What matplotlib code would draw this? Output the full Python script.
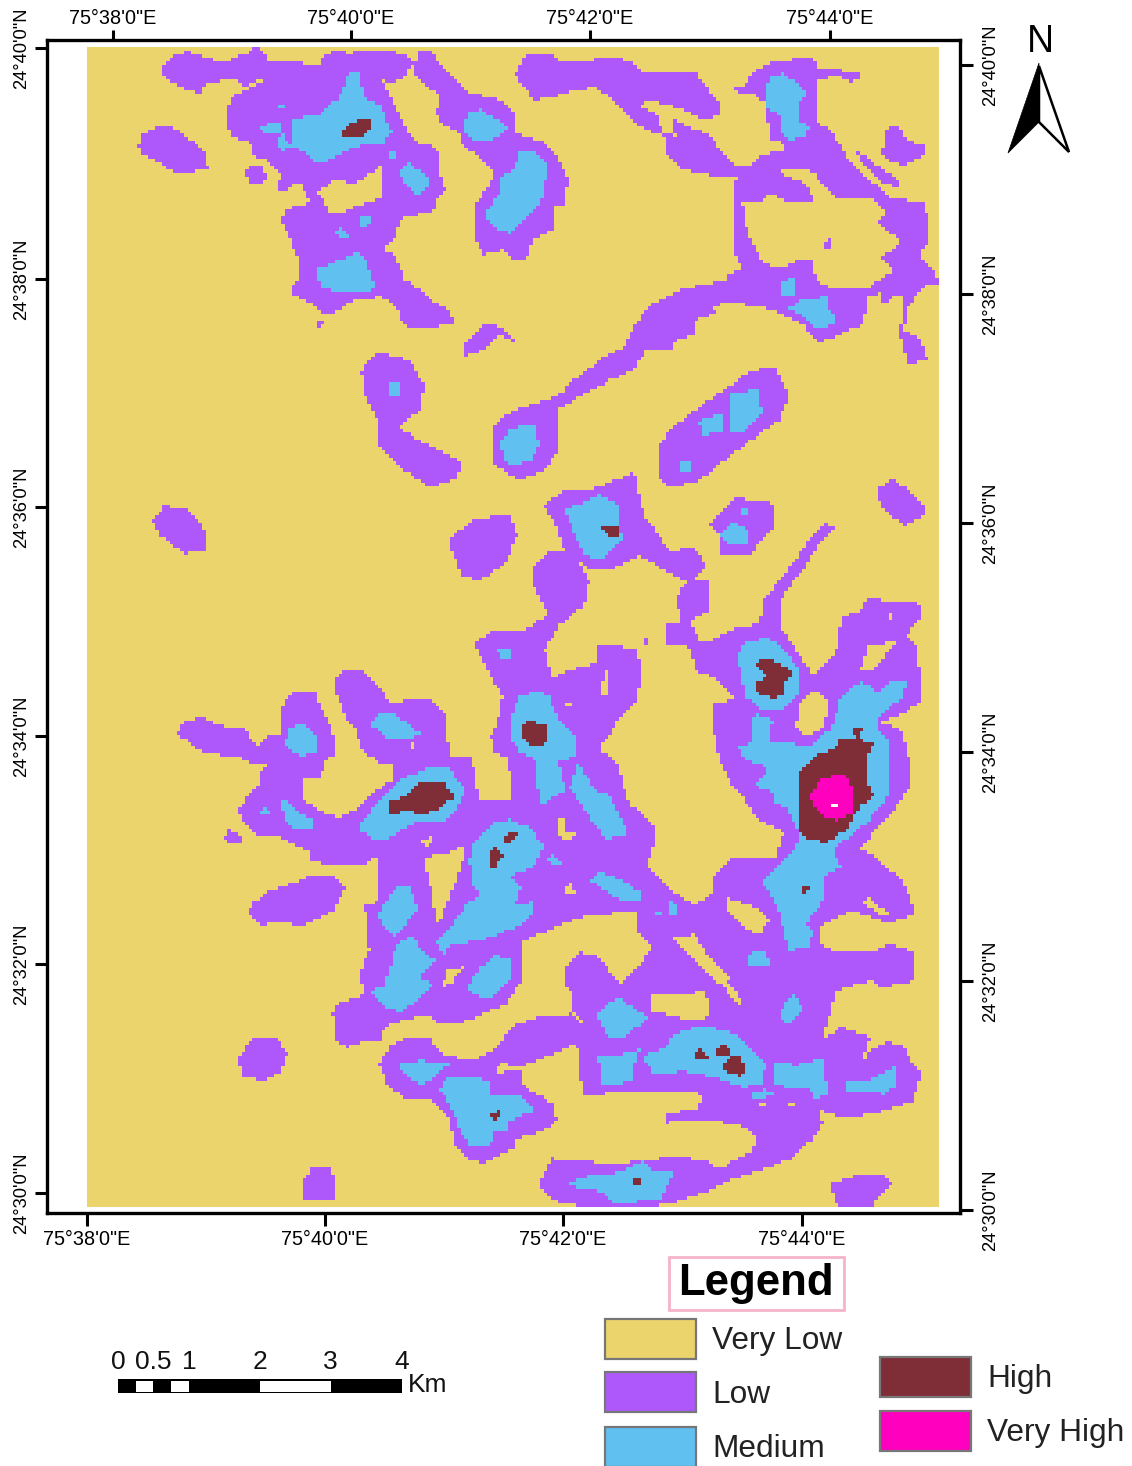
import numpy as np
import matplotlib
matplotlib.use('Agg')
import matplotlib.pyplot as plt
from matplotlib.colors import ListedColormap
from matplotlib.path import Path
from matplotlib.patches import Rectangle, Polygon

plt.rcParams['font.family'] = ['Liberation Sans', 'DejaVu Sans']

# graticule labels and where they cross the frame (map pixels)
lon_labels = ['75°38\'0"E', '75°40\'0"E', '75°42\'0"E', '75°44\'0"E']
lat_labels = ['24°40\'0"N', '24°38\'0"N', '24°36\'0"N', '24°34\'0"N', '24°32\'0"N', '24°30\'0"N']
lon_bottom = [87, 325, 563, 802]
lon_top = [113, 351, 590, 830]
lat_left = [48, 279, 507, 736, 964, 1193]
lat_right = [65, 294, 523, 752, 981, 1210]

class_names = ['Very Low', 'Low', 'Medium', 'High', 'Very High']
class_colors = ['#EBD46C', '#AE57FA', '#60C1F0', '#7F2D36', '#FF00BE']
scale_km = [0, 0.5, 1, 2, 3, 4]
scale_labels = ['0', '0.5', '1', '2', '3', '4']

CROP_NW = (80, 30, 3, 3)
CROP_NE = (540, 30, 3, 3)
CROP_E = (620, 500, 3, 3)
CROP_MID = (170, 640, 3, 3)
CROP_S = (220, 950, 2.178, 3)
FULL = (0, 0, 1, 1)

low_nw = [
    [(245,115),(280,72),(330,65),(385,85),(440,100),(460,85),(510,65),(530,50),(555,75),(560,95),(680,100),(715,105),(730,80),(770,60),(810,70),(840,60),(930,60),(990,80),(1000,100),(975,140),(940,158),(905,150),(925,190),(960,260),(990,310),(1010,335),(1060,350),(1080,370),(1080,430),(1100,480),(1070,510),(1060,545),(1000,555),(965,565),(950,610),(915,660),(950,680),(975,750),(1020,780),(1085,830),(1115,840),(1120,880),(1030,897),(970,885),(955,840),(910,800),(830,805),(770,845),(735,850),(690,815),(635,790),(635,765),(660,745),(660,700),(640,650),(625,610),(600,570),(620,535),(680,525),(690,510),(660,455),(640,460),(620,488),(590,485),(605,430),(560,385),(525,380),(510,340),(450,315),(440,250),(460,195),(500,180),(555,150),(520,155),(490,175),(470,150),(440,150),(375,165),(365,190),(320,180),(265,150),(245,130)],
    [(175,350),(190,310),(240,285),(280,290),(320,320),(370,360),(385,415),(340,425),(290,435),(240,395),(190,375)],
    [(490,430),(505,410),(550,410),(560,440),(540,468),(510,455)],
    [(1000,110),(1020,65),(1050,60),(1090,110),(1130,150),(1170,190),(1250,205),(1300,240),(1310,310),(1400,340),(1440,390),(1465,440),(1460,520),(1420,530),(1425,600),(1360,625),(1340,690),(1310,690),(1270,660),(1210,675),(1185,610),(1185,530),(1220,480),(1245,430),(1200,380),(1145,345),(1140,310),(1080,280),(1070,240),(1085,200),(1040,170),(1005,130)],
    [(1150,945),(1210,885),(1250,885),(1305,925),(1300,935),(1260,915),(1200,965),(1160,975)],
    [(705,880),(730,872),(732,885),(710,892)],
]
hole_nw = [
    [(710,490),(750,460),(770,445),(815,465),(860,440),(905,410),(905,505),(850,520),(790,545),(750,545),(735,515)],
]
low_ne = [
    [(-69,130),(-50,85),(-20,68),(40,70),(60,90),(130,95),(190,85),(270,90),(320,130),(360,125),(470,130),(510,180),(545,225),(540,250),(510,272),(480,265),(420,235),(340,212),(295,225),(350,250),(370,310),(410,318),(395,265),(470,300),(510,315),(560,380),(590,410),(635,405),(665,375),(690,370),(735,360),(735,338),(700,335),(690,290),(680,220),(640,190),(600,195),(575,165),(620,170),(630,135),(690,100),(750,95),(770,80),(825,85),(835,115),(960,125),(960,145),(935,158),(910,140),(840,145),(835,170),(835,280),(870,295),(900,340),(930,395),(970,430),(1010,465),(1060,505),(1150,515),(1165,550),(1170,630),(1140,680),(1190,720),(1198,760),(1150,770),(1130,800),(1105,830),(1095,900),(1140,920),(1165,985),(1110,1005),(1090,950),(1085,905),(1095,800),(1060,800),(1035,835),(1030,785),(985,800),(975,880),(880,925),(835,935),(790,880),(710,840),(600,820),(510,825),(530,850),(465,870),(465,915),(420,925),(390,960),(320,960),(280,1020),(210,1050),(140,1090),(60,1135),(55,1200),(60,1260),(15,1320),(-60,1350),(-135,1305),(-144,1200),(-105,1155),(-30,1125),(70,1090),(90,1060),(180,990),(260,945),(280,900),(310,850),(350,815),(420,780),(500,760),(560,755),(560,735),(610,720),(590,680),(580,620),(580,545),(590,450),(600,440),(540,440),(480,430),(420,415),(385,370),(375,320),(300,290),(255,250),(240,225),(170,170),(110,180),(30,205),(-20,210),(-40,175),(-65,155)],
    [(1035,310),(1050,285),(1075,290),(1110,330),(1160,350),(1150,380),(1090,408),(1040,385),(1025,360),(1045,335)],
    [(945,365),(960,365),(1085,455),(1080,470),(1050,465),(1020,450)],
]
hole_ne = [
    [(610,510),(660,520),(695,490),(760,520),(830,515),(800,460),(710,425),(790,415),(825,430),(885,500),(1000,500),(1045,550),(1015,580),(1090,635),(1030,680),(1060,720),(1070,720),(990,770),(880,780),(830,745),(820,690),(780,690),(720,715),(665,690),(625,610)],
]
low_ne_islands = [
    [(852,635),(880,622),(882,660),(855,652)],
]
medium_ne = [
    [(690,140),(730,130),(770,155),(805,190),(780,215),(775,270),(810,290),(800,320),(745,330),(720,290),(730,260),(680,230)],
    [(720,760),(765,740),(770,790),(730,795)],
    [(750,835),(790,805),(865,800),(870,840),(890,850),(885,880),(830,900),(800,860)],
]
low_full = [
    [(658,450),(670,430),(710,400),(750,372),(775,366),(790,395),(780,420),(745,445),(700,480),(672,488),(658,475)],
    [(362,370),(378,352),(410,360),(425,385),(420,410),(398,428),(430,445),(463,462),(458,478),(430,487),(405,470),(380,448),(378,420),(365,395)],
    [(152,520),(165,505),(190,510),(205,530),(205,552),(185,553),(160,535)],
    [(448,540),(475,518),(510,515),(518,535),(505,565),(480,580),(462,575)],
    [(877,490),(895,478),(925,505),(925,515),(905,525),(885,510)],
    [(543,505),(565,490),(590,490),(635,472),(645,515),(670,550),(695,548),(708,565),(690,582),(665,570),(640,555),(610,570),(590,570),(565,550),(555,520)],
    [(710,525),(735,497),(775,503),(775,525),(750,555),(720,555),(720,535)],
]
medium_full = [
    [(730,395),(760,388),(763,415),(745,432),(730,430)],
    [(700,420),(725,413),(725,430),(702,436)],
    [(680,462),(690,460),(690,472),(680,472)],
    [(388,382),(402,382),(400,395),(390,396)],
    [(500,445),(510,428),(535,425),(540,445),(530,462),(508,465)],
    [(565,510),(600,495),(620,505),(622,540),(600,560),(585,555)],
    [(722,535),(735,522),(750,530),(748,543),(728,543)],
    [(740,508),(750,508),(750,515),(742,515)],
]
high_full = [
    [(603,527),(620,527),(618,536),(608,535)],
]
low_mid = [
    [(25,280),(40,245),(90,230),(150,255),(220,265),(265,315),(300,285),(335,280),(335,210),(355,160),(435,155),(465,220),(490,270),(495,340),(465,365),(450,415),(395,410),(395,470),(450,510),(500,530),(540,520),(610,455),(670,415),(665,365),(630,365),(575,330),(560,270),(530,240),(490,130),(520,85),(575,85),(620,135),(670,190),(730,170),(790,180),(830,225),(840,345),(900,350),(920,400),(925,478),(1030,475),(1030,600),(900,650),(640,640),(575,675),(425,665),(420,635),(330,590),(250,580),(200,510),(240,460),(280,425),(260,415),(290,370),(240,365),(200,350),(100,335),(60,310)],
    [(915,10),(960,-25),(1065,-30),(1134,-75),(1095,-165),(1095,-225),(1140,-270),(1215,-264),(1260,-180),(1245,-105),(1170,-45),(1125,30),(1150,115),(1210,85),(1280,70),(1285,20),(1320,10),(1400,30),(1420,100),(1400,180),(1340,240),(1335,265),(1290,325),(1340,360),(1380,490),(1450,545),(1460,600),(1430,680),(1470,720),(1500,800),(1400,810),(1230,830),(1100,885),(1060,900),(1045,960),(1060,1015),(1010,1090),(900,1140),(830,1150),(790,1120),(650,1150),(630,1200),(500,1200),(490,1115),(515,1080),(575,1075),(580,1040),(565,1010),(600,930),(585,790),(620,785),(630,640),(1030,470),(1015,350),(975,340),(965,290),(985,240),(1000,170),(960,100)],
    [(160,590),(180,565),(215,590),(215,610),(175,608)],
    [(245,790),(300,750),(350,735),(440,700),(480,700),(530,740),(490,810),(400,855),(330,845),(270,855),(240,820)],
]
hole_mid = [
    [(760,650),(830,640),(890,610),(885,650),(860,720),(810,845),(800,845),(785,750)],
    [(750,600),(785,590),(780,625),(765,610)],
    [(1160,590),(1170,530),(1185,530),(1190,575),(1215,580),(1210,595)],
    [(1185,750),(1200,725),(1218,755),(1190,760)],
    [(1175,185),(1215,180),(1195,205)],
    [(1290,165),(1310,90),(1320,90),(1318,165)],
    [(820,1035),(835,985),(880,980),(845,1030),(825,1035)],
    [(718,308),(730,308),(730,330),(718,330)],
]
medium_mid = [
    [(345,310),(360,260),(405,250),(440,290),(440,340),(385,345)],
    [(600,250),(630,215),(680,225),(755,280),(720,300),(660,300)],
    [(330,480),(350,480),(395,525),(430,530),(430,560),(365,560),(345,530)],
    [(270,510),(290,500),(300,520),(275,520)],
    [(565,565),(620,490),(700,415),(770,385),(840,385),(890,450),(860,510),(830,545),(740,545),(650,595),(610,595)],
    [(1020,240),(1050,170),(1100,150),(1140,170),(1170,240),(1225,300),(1225,350),(1165,360),(1190,450),(1110,495),(1100,360),(1050,335),(1025,290)],
    [(1200,440),(1225,370),(1280,450),(1320,460),(1380,580),(1310,595),(1260,530)],
    [(985,20),(1025,20),(1025,55),(990,60)],
    [(900,660),(915,600),(965,550),(1020,535),(1080,560),(1125,620),(1090,680),(1025,705),(1055,740),(1040,790),(1085,785),(1095,810),(1060,850),(1000,875),(930,900),(850,910),(820,945),(800,905),(850,850),(895,790),(930,760),(905,730)],
    [(1130,665),(1150,640),(1185,675)],
    [(1260,720),(1290,695),(1350,715),(1420,760),(1415,780),(1350,775),(1300,745)],
    [(625,820),(680,735),(715,735),(745,800),(700,860),(680,890),(640,860)],
    [(600,1050),(640,1040),(650,1020),(680,910),(725,885),(760,930),(795,960),(750,1010),(790,1030),(750,1070),(700,1115),(640,1095)],
    [(895,1040),(930,980),(980,945),(1020,955),(1025,1010),(980,1060),(950,1075),(905,1060)],
]
high_mid = [
    [(657,485),(700,470),(740,430),(820,420),(855,470),(800,510),(750,522),(700,505),(690,520),(660,520)],
    [(1055,250),(1085,240),(1130,255),(1135,300),(1110,320),(1075,310),(1055,280)],
    [(1005,590),(1030,570),(1045,580),(1020,612),(1005,605)],
    [(960,630),(975,615),(1003,650),(985,670),(975,685),(950,685),(965,665)],
]
low_east = [
    [(145,430),(140,370),(185,365),(170,295),(200,245),(265,240),(275,325),(210,365),(245,430),(300,410),(360,380),(420,370),(435,300),(480,240),(530,180),(570,120),(620,70),(650,85),(600,130),(565,190),(510,260),(490,295),(480,375),(540,460),(570,510),(590,525),(660,440),(665,350),(720,335),(745,295),(900,310),(905,350),(860,410),(890,430),(910,560),(910,600),(850,640),(785,665),(850,690),(875,790),(870,860),(810,950),(760,1000),(725,1045),(770,1070),(850,1140),(885,1220),(880,1240),(810,1270),(700,1230),(600,1280),(610,1330),(700,1380),(810,1330),(880,1350),(885,1440),(300,1440),(285,1170),(285,1130),(340,1070),(470,1070),(495,995),(420,960),(380,900),(340,860),(300,780),(285,700),(285,610),(330,600),(350,600),(300,540),(230,510),(210,440)],
    [(70,410),(90,410),(90,435),(70,435)],
    # link between the central network and the east lobe
    [(0,800),(20,910),(110,990),(80,1090),(160,1170),(225,1215),(290,1175),(330,1220),(420,1310),(600,1440),(50,1440),(100,1345),(50,1290),(50,1230),(-40,1240),(-60,1100),(-30,800)],
]
hole_east = [
    [(745,440),(840,420),(760,510),(725,515)],
    [(720,1200),(750,1195),(810,1240),(790,1245)],
    [(530,680),(545,610),(585,570),(620,590),(630,630),(610,680),(570,710)],
    [(320,1190),(410,1220),(450,1260),(420,1305),(360,1270),(320,1220)],
    [(810,340),(825,340),(825,355),(810,355)],
    [(160,1315),(225,1300),(270,1370),(340,1440),(290,1440)],
]
medium_east = [
    [(355,470),(375,430),(440,410),(490,440),(540,510),(540,580),(490,630),(430,630),(380,590)],
    [(350,735),(395,730),(395,660),(415,640),(460,660),(450,720),(530,730),(575,740),(640,680),(665,590),(730,540),(780,580),(820,540),(865,545),(850,590),(780,650),(775,690),(810,720),(805,800),(805,890),(750,960),(700,1000),(640,1050),(670,1100),(610,1130),(620,1190),(560,1270),(585,1290),(565,1340),(510,1350),(480,1230),(430,1140),(470,1100),(530,1045),(540,1000),(500,920),(460,900),(470,880),(410,855),(445,810),(430,790),(380,780)],
    [(110,1235),(130,1225),(130,1245),(115,1250)],
    [(155,1205),(170,1210),(170,1245),(155,1245)],
]
high_east = [
    [(400,500),(430,475),(470,485),(520,515),(500,545),(495,580),(460,595),(410,575),(410,545),(440,530),(425,505)],
    [(540,820),(590,765),(650,745),(660,720),(720,715),(765,730),(740,770),(740,840),(765,890),(730,910),(695,960),(680,990),(620,1025),(560,1015),(540,985)],
    [(695,685),(730,685),(725,715),(710,710)],
    [(550,1160),(568,1160),(560,1178),(550,1178)],
]
very_high_east = [
    [(575,880),(610,830),(680,825),(702,870),(700,935),(655,960),(610,945),(580,915)],
]
nodata_east = [
    [(640,906),(653,906),(653,919),(640,919)],
]
low_s = [
    [(245,185),(270,150),(305,150),(320,115),(305,70),(330,0),(655,0),(660,80),(640,130),(580,160),(520,210),(470,215),(460,190),(360,225),(345,260),(280,290),(250,270),(260,225)],
    [(37,325),(75,260),(120,258),(147,310),(130,370),(90,390),(50,375)],
    [(177,690),(200,655),(245,650),(250,700),(255,750),(180,752)],
    [(348,340),(370,290),(410,260),(455,258),(490,315),(545,325),(560,322),(605,290),(640,225),(700,195),(770,190),(790,215),(775,280),(710,320),(660,345),(610,340),(600,365),(660,360),(655,400),(730,460),(735,510),(700,545),(650,560),(640,590),(575,640),(540,620),(510,575),(500,500),(460,450),(400,440),(365,400)],
    [(750,50),(790,5),(830,20),(850,60),(875,100),(905,60),(940,0),(1010,0),(1040,50),(1100,110),(1140,175),(1130,120),(1070,60),(1045,0),(1510,0),(1505,95),(1440,110),(1420,90),(1345,120),(1330,190),(1315,265),(1355,230),(1420,260),(1395,350),(1420,300),(1450,275),(1490,280),(1505,330),(1530,370),(1510,450),(1430,490),(1360,500),(1310,480),(1315,520),(1290,570),(1250,620),(1200,650),(1110,690),(1070,720),(1000,750),(920,775),(800,770),(730,750),(695,700),(725,622),(860,640),(1000,615),(1060,630),(1090,655),(1160,600),(1170,565),(1150,530),(1080,510),(975,515),(975,490),(1045,470),(1050,430),(1010,420),(900,420),(790,435),(785,310),(775,280),(790,215),(770,180),(770,130),(750,100)],
    [(1330,700),(1400,670),(1450,670),(1465,700),(1420,770),(1350,770)],
]
hole_s = [
    [(945,130),(1060,125),(1070,190),(1060,205),(1010,205),(945,180)],
    [(1175,460),(1190,460),(1190,470),(1175,470)],
    [(1240,460),(1255,460),(1255,470),(1240,470)],
]
medium_s = [
    [(390,340),(440,330),(500,340),(470,380),(440,405),(405,375)],
    [(480,415),(500,375),(540,375),(590,390),(590,430),(650,430),(685,480),(630,510),(625,540),(600,540),(590,590),(550,590),(520,530),(510,480)],
    [(825,190),(870,135),(900,170),(935,200),(900,240),(880,265),(850,260),(830,215)],
    [(1220,185),(1250,125),(1272,170),(1255,210),(1235,220)],
    [(827,320),(880,310),(915,295),(905,340),(905,385),(860,405),(830,400)],
    [(920,315),(975,290),(980,260),(1020,235),(1075,230),(1130,250),(1160,300),(1190,340),(1185,395),(1140,410),(1080,380),(1010,360),(950,375)],
    [(1205,360),(1215,330),(1260,345),(1315,320),(1325,430),(1300,445),(1280,410),(1205,405)],
    [(1160,430),(1190,415),(1215,435),(1165,443)],
    [(1365,395),(1420,385),(1475,345),(1478,400),(1450,430),(1410,420),(1365,420)],
    [(1150,10),(1190,0),(1200,40),(1170,50),(1155,40)],
    [(752,705),(800,675),(860,670),(925,630),(945,660),(988,665),(980,700),(960,750),(860,755),(820,715)],
]
high_s = [
    [(590,495),(605,480),(620,485),(605,505),(595,505)],
    [(1035,305),(1045,295),(1065,315),(1060,328),(1040,325)],
    [(1080,290),(1105,285),(1115,300),(1110,320),(1085,318)],
    [(1095,345),(1115,320),(1140,320),(1145,365),(1135,380),(1110,365)],
    [(900,685),(920,685),(922,703),(908,703)],
]
medium_nw = [
    [(540,295),(570,275),(600,275),(600,310),(550,315)],
    [(590,320),(610,315),(640,355),(600,360)],
    [(635,265),(720,255),(780,200),(810,125),(840,130),(855,205),(905,230),(935,305),(915,340),(830,350),(750,390),(705,395),(670,365),(640,350)],
    [(590,225),(620,225),(620,238),(600,238)],
    [(920,375),(945,365),(958,375),(935,390)],
    [(960,430),(985,400),(1040,430),(1050,470),(1015,495),(980,465)],
    [(835,565),(870,562),(875,585),(840,588)],
    [(768,600),(785,590),(815,620),(775,622)],
    [(710,715),(780,690),(830,665),(860,690),(885,770),(870,790),(780,790),(720,770)],
    [(925,1055),(965,1055),(965,1085),(945,1095),(925,1075)],
    [(1150,285),(1170,250),(1200,238),(1250,265),(1285,295),(1250,325),(1190,335),(1160,315)],
    [(1225,540),(1260,490),(1265,440),(1305,420),(1320,365),(1370,370),(1408,410),(1395,465),(1385,520),(1340,560),(1295,610),(1260,600),(1225,565)],
]
high_nw = [
    [(785,300),(830,270),(875,265),(875,298),(845,318),(785,318)],
]

# painting order: later entries overwrite earlier ones (class 5 is the no-data speck)
zones = [
    (1, CROP_NW, low_nw), (1, CROP_NE, low_ne), (1, FULL, low_full), (1, CROP_MID, low_mid),
    (1, CROP_E, low_east), (1, CROP_S, low_s),
    (0, CROP_NW, hole_nw), (0, CROP_NE, hole_ne), (0, CROP_MID, hole_mid), (0, CROP_E, hole_east), (0, CROP_S, hole_s),
    (1, CROP_NE, low_ne_islands),
    (2, CROP_NW, medium_nw), (2, CROP_NE, medium_ne), (2, FULL, medium_full), (2, CROP_MID, medium_mid),
    (2, CROP_E, medium_east), (2, CROP_S, medium_s),
    (3, CROP_NW, high_nw), (3, FULL, high_full), (3, CROP_MID, high_mid), (3, CROP_E, high_east), (3, CROP_S, high_s),
    (4, CROP_E, very_high_east), (5, CROP_E, nodata_east),
]


def make_raster(x0, x1, y0, y1, cell):
    xs = np.arange(x0 + cell / 2, x1, cell)
    ys = np.arange(y0 + cell / 2, y1, cell)
    gx, gy = np.meshgrid(xs, ys)
    centers = np.column_stack([gx.ravel(), gy.ravel()])
    grid = np.zeros(gx.shape, dtype=int)
    for cls, crop, rings in zones:
        cx, cy, sx, sy = crop
        for ring in rings:
            pts = np.array(ring, dtype=float)
            pts = pts / [sx, sy] + [cx, cy]
            inside = Path(pts).contains_points(centers).reshape(gx.shape)
            grid[inside] = cls
    return grid


fig = plt.figure(figsize=(11.32, 14.66), dpi=100)
W, H = 1132, 1466

# map frame
ax = fig.add_axes([47 / W, 1 - 1213 / H, (960 - 47) / W, (1213 - 40) / H])
cmap = ListedColormap(class_colors + ['#FFFFFF'])
grid = make_raster(87, 939, 47, 1207, 3.6)
ax.imshow(grid, cmap=cmap, vmin=0, vmax=5, interpolation='nearest', aspect='auto',
          extent=[87, 939, 1207, 47])
ax.set_xlim(47, 960)
ax.set_ylim(1213, 40)
for s in ax.spines.values():
    s.set_linewidth(2.4)

ax.set_xticks(lon_bottom)
ax.set_xticklabels(lon_labels, fontsize=14.3)
ax.set_yticks(lat_left)
ax.set_yticklabels(lat_labels, fontsize=13.2, rotation=90, va='center')
ax.tick_params(direction='out', length=9, width=2.2, pad=3, colors='black')

ax_top = ax.twiny()
ax_top.set_xlim(47, 960)
ax_top.set_xticks(lon_top)
ax_top.set_xticklabels(lon_labels, fontsize=14.3)
ax_top.tick_params(direction='out', length=7.5, width=2.2, pad=1)

ax_right = ax.twinx()
ax_right.set_ylim(1213, 40)
ax_right.set_yticks(lat_right)
ax_right.set_yticklabels(lat_labels, fontsize=13.2, rotation=90, va='center')
ax_right.tick_params(direction='out', length=9, width=2.2, pad=7)

# overlay in figure pixels for the furniture around the map
ov = fig.add_axes([0, 0, 1, 1])
ov.set_xlim(0, W)
ov.set_ylim(H, 0)
ov.axis('off')

# north arrow
ov.text(1040, 42, 'N', fontsize=27, ha='center', va='center')
ov.add_patch(Polygon([(1039, 66), (1069, 152), (1039, 122)], fc='white', ec='black', lw=1.8, joinstyle='miter'))
ov.add_patch(Polygon([(1039, 63), (1008, 153), (1039, 122)], fc='black', ec='black', lw=0.5))

# scale bar
bar_x0, km_px = 118, 70.9
ov.add_patch(Rectangle((bar_x0, 1379), 4 * km_px, 14, fc='black', ec='none'))
for a, b in [(0.25, 0.5), (0.75, 1), (2, 3)]:
    ov.add_patch(Rectangle((bar_x0 + a * km_px, 1381), (b - a) * km_px, 11, fc='white', ec='none'))
for km, lab in zip(scale_km, scale_labels):
    ov.text(bar_x0 + km * km_px, 1362, lab, fontsize=19, ha='center', va='center', color='#111111')
ov.text(408, 1385, 'Km', fontsize=19, ha='left', va='center', color='#111111')

# legend
ov.add_patch(Rectangle((669, 1257), 175, 53, fc='white', ec='#F4B4CC', lw=2))
ov.text(756, 1283, 'Legend', fontsize=31.5, fontweight='bold', ha='center', va='center')
legend_pos = [(605, 1319, 712, 1341), (605, 1372, 712, 1395), (605, 1427, 712, 1449),
              (880, 1357, 987, 1379), (880, 1411, 987, 1433)]
for name, col, (px, py, tx, ty) in zip(class_names, class_colors, legend_pos):
    ov.add_patch(Rectangle((px, py), 91, 40, fc=col, ec='#777777', lw=1.6))
    ov.text(tx, ty, name, fontsize=22.8, ha='left', va='center', color='#222222')

plt.savefig('out.png', dpi=100)
plt.close()
